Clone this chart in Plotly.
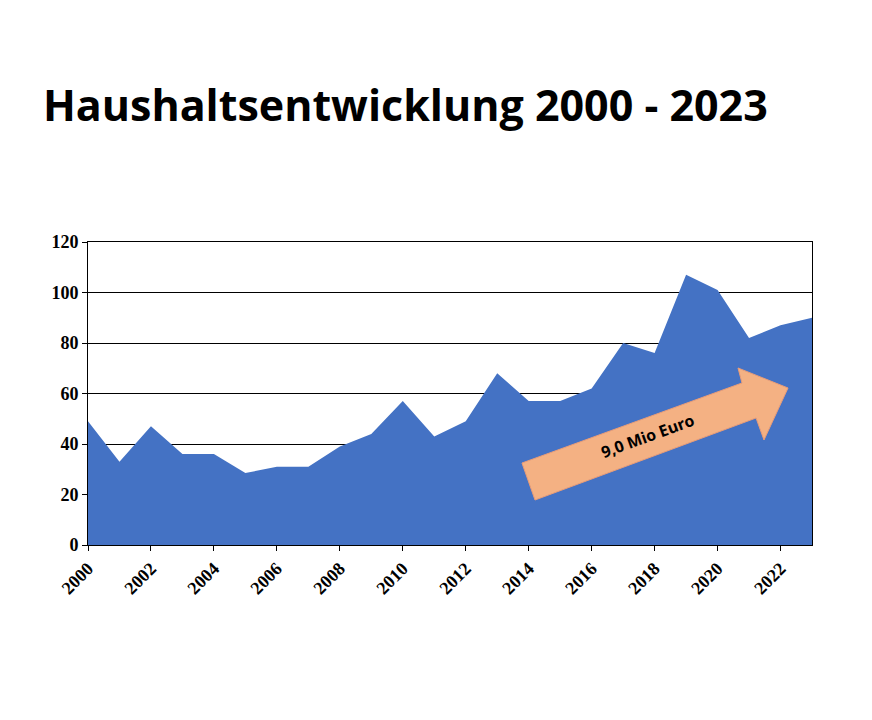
import plotly.graph_objects as go

years = list(range(2000, 2024))
values = [49, 33, 47, 36, 36, 28.5, 31, 31, 39, 44, 57, 43, 49, 68, 57, 57, 62, 80, 76, 107, 101, 82, 87, 90]
tick_years = list(range(2000, 2023, 2))
y_ticks = [0, 20, 40, 60, 80, 100, 120]

W, H = 872, 720
L, R, T, B = 88, 812, 242, 545
DX, DY = 8, 8  # render offset compensation


def px(x, y):
    # pixel -> paper coords
    return (x - L) / (R - L), (B - y) / (B - T)


arrow_px = [(522, 463), (742, 383), (738, 368), (788, 388), (764, 440), (756, 418), (535, 500)]
pts = [px(x, y) for x, y in arrow_px]
path = "M " + " L ".join(f"{a:.4f},{b:.4f}" for a, b in pts) + " Z"

fig = go.Figure(go.Scatter(
    x=years, y=values, mode="lines", fill="tozeroy",
    line=dict(color="#4472C4", width=0), fillcolor="#4472C4",
    hoverinfo="skip"))

tx, ty = px(700, 466)
fig.update_layout(
    width=W, height=H, plot_bgcolor="white", paper_bgcolor="white",
    margin=dict(l=L - DX, r=W - R + DX, t=T - DY, b=H - B + DY), showlegend=False,
    title=dict(text="<b>Haushaltsentwicklung 2000 - 2023</b>", x=0.04, xanchor="left",
               y=1 - 98 / H, yanchor="middle",
               font=dict(family="Open Sans", size=43, color="black")),
    xaxis=dict(range=[2000, 2023], tickmode="array", tickvals=tick_years,
               ticktext=[f"<b>{y}</b>" for y in tick_years], tickangle=-45,
               ticks="outside", ticklen=5, tickcolor="black", showgrid=False,
               showline=True, linecolor="black", mirror=True,
               tickfont=dict(family="Liberation Serif", size=18, color="black")),
    yaxis=dict(range=[0, 120], tickmode="array", tickvals=y_ticks,
               ticktext=[f"<b>{v}</b>" for v in y_ticks],
               ticks="outside", ticklen=5, tickcolor="black",
               showgrid=True, gridcolor="black", gridwidth=1,
               showline=True, linecolor="black", mirror=True, zeroline=False,
               tickfont=dict(family="Liberation Serif", size=18, color="black")),
    shapes=[dict(type="path", path=path, xref="paper", yref="paper",
                 fillcolor="#F4B183", line=dict(color="#E89C78", width=1))],
    annotations=[dict(text="<b>9,0 Mio Euro</b>", x=tx, y=ty, xref="paper", yref="paper",
                      showarrow=False, textangle=-20,
                      font=dict(family="Open Sans", size=16, color="black"))],
)
fig.write_html("out.html")
